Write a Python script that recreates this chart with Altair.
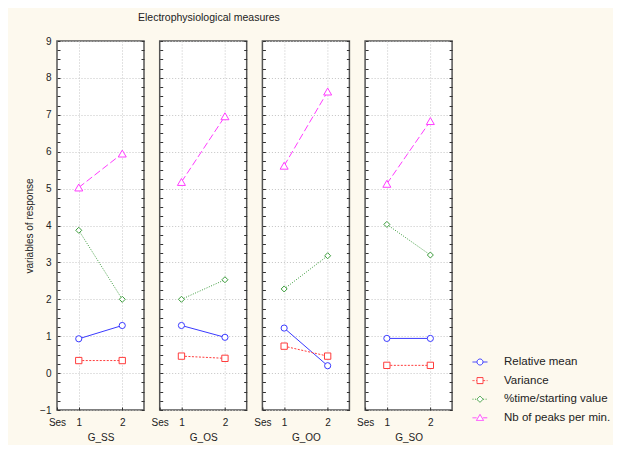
import altair as alt
import pandas as pd

# ---------------- data ----------------
groups = ["G_SS", "G_OS", "G_OO", "G_SO"]
sessions = [1, 2]
series_names = ["Relative mean", "Variance", "%time/starting value", "Nb of peaks per min."]

# one [session 1, session 2] pair per group, in the order of `groups`
relative_mean = [[0.93, 1.29], [1.29, 0.97], [1.22, 0.20], [0.94, 0.94]]
variance = [[0.34, 0.34], [0.46, 0.40], [0.73, 0.46], [0.21, 0.21]]
pct_time = [[3.87, 2.00], [2.00, 2.53], [2.28, 3.18], [4.03, 3.20]]
nb_peaks = [[5.03, 5.95], [5.18, 6.96], [5.62, 7.63], [5.13, 6.83]]

y_tick_values = [-1 + 0.25 * i for i in range(41)]
x_tick_values = [0.5, 1, 2]
x_start_label = "Ses"

rows = []
for name, vals in zip(series_names, [relative_mean, variance, pct_time, nb_peaks]):
    for g, pair in zip(groups, vals):
        for s, v in zip(sessions, pair):
            rows.append({"group": g, "session": s, "series": name, "value": v})
df = pd.DataFrame(rows)

# ---------------- style ----------------
colors = ["#3a3aff", "#ff3c3c", "#3c9c3c", "#ff3cff"]
dashes = [None, [2, 1.5], [1, 1.5], [7, 3]]
shapes = ["circle", "square", "diamond", "triangle-up"]
sizes = [38, 40, 36, 64]
FONT = "Liberation Sans"
TXT = "#222222"


def seg_path(on, off, gap=0.42):
    out = []
    for a, b in [(-1.0, -gap), (gap, 1.0)]:
        x = a
        while x < b - 1e-6:
            e = min(x + on, b)
            out.append(f"M{x:.3f},0L{e:.3f},0")
            x = e + off
    return "".join(out)


markers = [
    "M0.4,0A0.4,0.4,0,1,1,-0.4,0A0.4,0.4,0,1,1,0.4,0Z",
    "M-0.4,-0.4L0.4,-0.4L0.4,0.4L-0.4,0.4Z",
    "M0,-0.42L0.42,0L0,0.42L-0.42,0Z",
    "M0,-0.45L0.47,0.35L-0.47,0.35Z",
]
legend_lines = [seg_path(2, 0), seg_path(0.27, 0.2), seg_path(0.13, 0.2), seg_path(0.55, 0.35)]
legend_paths = [l + m for l, m in zip(legend_lines, markers)]
shape_expr = (
    f"datum.value === '{series_names[0]}' ? '{legend_paths[0]}' : "
    f"datum.value === '{series_names[1]}' ? '{legend_paths[1]}' : "
    f"datum.value === '{series_names[2]}' ? '{legend_paths[2]}' : '{legend_paths[3]}'"
)

legend = alt.Legend(
    title=None,
    orient="none",
    legendX=415,
    legendY=313,
    padding=0,
    symbolType=alt.ExprRef(shape_expr),
    symbolSize=225,
    symbolStrokeWidth=1,
    symbolFillColor="transparent",
    symbolOpacity=1,
    symbolDash=[1, 0],
    rowPadding=4.6,
    labelOffset=16,
    labelFont=FONT,
    labelFontSize=11.5,
    labelColor=TXT,
)

x_scale = alt.Scale(domain=[0.5, 2.5], nice=False, zero=False)
y_scale = alt.Scale(domain=[-1, 9], nice=False, zero=False)
color_enc = alt.Color("series:N", scale=alt.Scale(domain=series_names, range=colors), legend=legend)

not_int = "datum.value % 1 != 0"


def x_axis(title):
    return alt.Axis(
        values=x_tick_values,
        labelExpr=f"datum.value == 0.5 ? '{x_start_label}' : format(datum.value, 'd')",
        title=title,
        offset=-3,
        tickSize=3,
        tickColor="#333333",
        domain=False,
        grid=True,
        gridOpacity={"condition": {"test": "datum.value == 0.5", "value": 0}, "value": 1},
        labelFlush=False,
        labelOverlap=False,
        labelPadding=7.5,
        titlePadding=5,
    )


def y_axis_left(show_labels):
    return alt.Axis(
        values=y_tick_values,
        orient="left",
        labels=show_labels,
        labelExpr=f"{not_int} ? '' : format(datum.value, 'd')",
        title="variables of response" if show_labels else None,
        offset=-3,
        tickSize=3,
        tickColor="#333333",
        domain=False,
        grid=True,
        gridOpacity={"condition": {"test": not_int, "value": 0}, "value": 1},
        labelFlush=False,
        labelOverlap=False,
        labelPadding=6,
        titlePadding=5,
    )


y_axis_right = alt.Axis(
    values=y_tick_values,
    orient="right",
    labels=False,
    title=None,
    offset=-3,
    tickSize=3,
    tickColor="#333333",
    domain=False,
    grid=False,
)

panels = []
for i, g in enumerate(groups):
    base = alt.Chart(df).transform_filter(alt.datum.group == g)
    xa = x_axis(g)
    layers = []
    for k, name in enumerate(series_names):
        line_kw = {"strokeWidth": 1}
        if dashes[k] is not None:
            line_kw["strokeDash"] = dashes[k]
        layers.append(
            base.transform_filter(alt.datum.series == name)
            .mark_line(**line_kw)
            .encode(
                x=alt.X("session:Q", scale=x_scale, axis=xa),
                y=alt.Y("value:Q", scale=y_scale, axis=y_axis_left(i == 0) if k == 0 else None),
                color=color_enc,
            )
        )
    for k, name in enumerate(series_names):
        layers.append(
            base.transform_filter(alt.datum.series == name)
            .mark_point(
                shape=shapes[k], size=sizes[k], filled=False, fill="white", strokeWidth=1, opacity=1
            )
            .encode(
                x=alt.X("session:Q", scale=x_scale, axis=xa),
                y=alt.Y("value:Q", scale=y_scale, axis=y_axis_right if k == 0 else None),
                color=color_enc,
            )
        )
    panels.append(alt.layer(*layers).resolve_axis(y="independent").properties(width=87, height=369))

chart = (
    alt.hconcat(*panels, spacing=15.7, bounds="flush")
    .properties(
        title=alt.TitleParams(
            "Electrophysiological measures",
            anchor="start",
            frame="group",
            dx=81,
            offset=12,
            fontSize=10.5,
            fontWeight="normal",
            font=FONT,
            color=TXT,
        ),
        padding={"left": 15, "top": 4, "right": 2, "bottom": 1},
        background="#fdf9ee",
    )
    .configure_view(stroke="#555555", strokeWidth=1.5, fill="white")
    .configure_axis(
        labelFont=FONT,
        titleFont=FONT,
        labelFontSize=10,
        titleFontSize=10,
        labelColor=TXT,
        titleColor=TXT,
        titleFontWeight="normal",
        gridColor="#c4c4c4",
        gridDash=[1, 2],
        gridWidth=1,
    )
)

chart.save("out.html", embed_options={"renderer": "svg", "actions": False})
